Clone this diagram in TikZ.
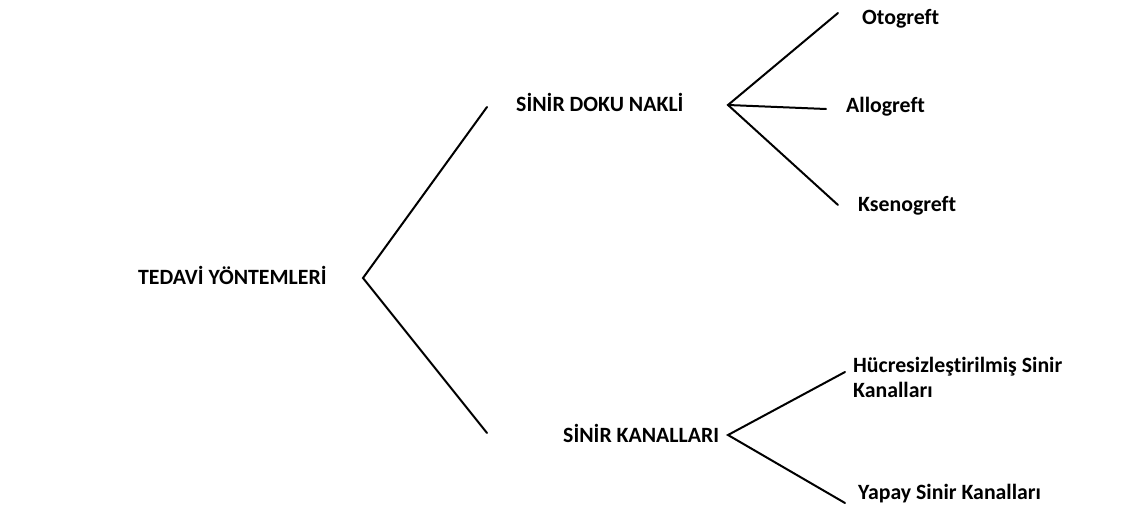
\documentclass[tikz,border=0pt]{standalone}
\usepackage{fontspec}
\setmainfont[Ligatures={NoCommon}]{Carlito}
\begin{document}
\begin{tikzpicture}[x=1pt,y=-1pt,
  lbl/.style={font=\bfseries\fontsize{21.8}{25}\selectfont, inner sep=0pt, anchor=base west, text=black},
  branch/.style={line width=2pt, black, line cap=round}]
\useasboundingbox (0,0) rectangle (1141,526);
% texts
\node[lbl] (root) at (138,285) {TEDAVİ YÖNTEMLERİ};
\node[lbl] (sdn) at (516,112) {SİNİR DOKU NAKLİ};
\node[lbl] (sk) at (563,443) {SİNİR KANALLARI};
\node[lbl] (oto) at (862,25) {Otogreft};
\node[lbl] (allo) at (846,113) {Allogreft};
\node[lbl] (kseno) at (858,212) {Ksenogreft};
\node[lbl, align=left] (hucre) at (853,398) {Hücresizleştirilmiş Sinir\\Kanalları};
\node[lbl] (yapay) at (858,500) {Yapay Sinir Kanalları};
% branch points
\coordinate (v0) at (363,278);
\coordinate (a1) at (487,107);
\coordinate (a2) at (487,433);
\coordinate (v1) at (728,105);
\coordinate (b1) at (838,13);
\coordinate (b2) at (826,109);
\coordinate (b3) at (838,205);
\coordinate (v2) at (728,435);
\coordinate (c1) at (845,372);
\coordinate (c2) at (845,503);
\draw[branch] (a1) -- (v0) -- (a2);
\draw[branch] (b1) -- (v1) -- (b3);
\draw[branch] (v1) -- (b2);
\draw[branch] (c1) -- (v2) -- (c2);
\end{tikzpicture}
\end{document}
